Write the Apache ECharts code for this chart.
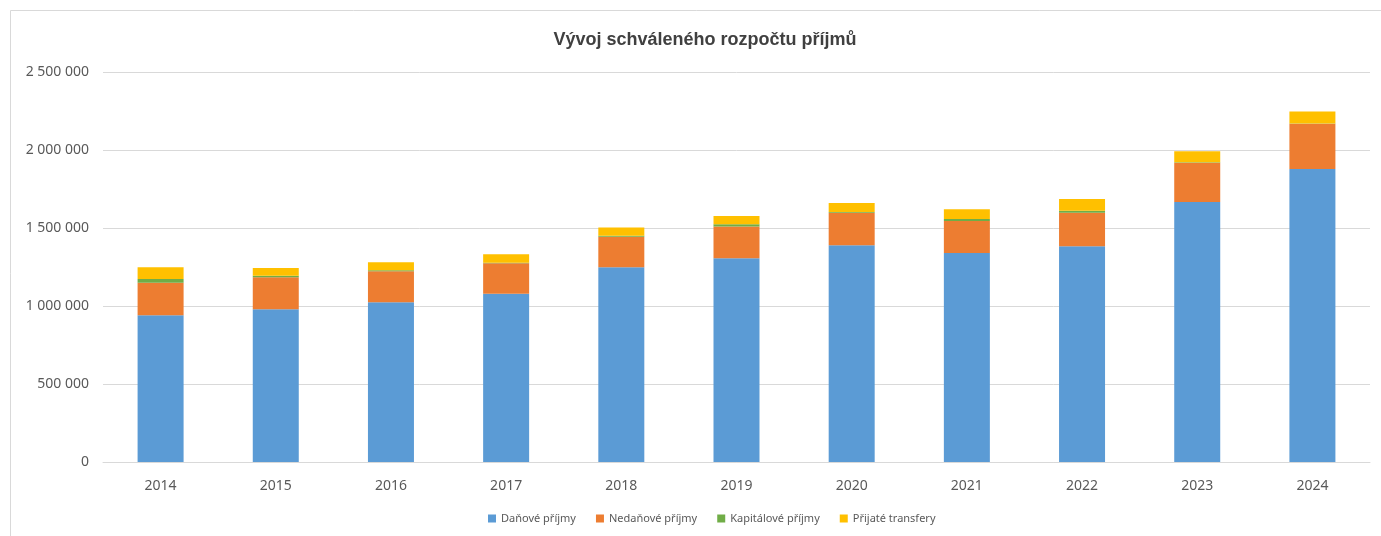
<!DOCTYPE html>
<html>
<head>
<meta charset="utf-8">
<script src="https://cdn.jsdelivr.net/npm/echarts@6/dist/echarts.min.js"></script>
<style>
html, body { margin: 0; padding: 0; background: #fff; }
#chart { width: 1381px; height: 536px; }
</style>
</head>
<body>
<div id="chart"></div>
<script>
// roky
var years = ['2014', '2015', '2016', '2017', '2018', '2019', '2020', '2021', '2022', '2023', '2024'];
// hodnoty
var danove = [940000, 979000, 1024000, 1079000, 1248000, 1306000, 1389000, 1340000, 1383000, 1667000, 1878000];
var nedanove = [209000, 205000, 199000, 195000, 196000, 203000, 209000, 205000, 215000, 252000, 290000];
var kapitalove = [24000, 10000, 6000, 4000, 6000, 15000, 4000, 13000, 13000, 2000, 2000];
var transfery = [75000, 49000, 51000, 54000, 54000, 53000, 58000, 62000, 75000, 71000, 77000];
var seriesNames = ['Daňové příjmy', 'Nedaňové příjmy', 'Kapitálové příjmy', 'Přijaté transfery'];
var colors = ['#5B9BD5', '#ED7D31', '#70AD47', '#FFC000'];

var chart = echarts.init(document.getElementById('chart'));

function fmt (v) {
  return String(v).replace(/\B(?=(\d{3})+(?!\d))/g, ' ');
}

function bar (name, data) {
  return {
    name: name,
    type: 'bar',
    stack: 'total',
    barWidth: 46,
    data: data
  };
}

var option = {
  backgroundColor: '#fff',
  color: colors,
  animation: false,
  title: {
    text: 'Vývoj schváleného rozpočtu příjmů',
    left: 700,
    textAlign: 'center',
    top: 26,
    textStyle: {
      fontFamily: 'Liberation Sans',
      fontSize: 18,
      fontWeight: 'bold',
      color: '#404040'
    }
  },
  graphic: [{
    type: 'rect',
    shape: { x: 10.5, y: 10.5, width: 1400, height: 600 },
    style: { fill: 'none', stroke: '#d9d9d9', lineWidth: 1 },
    silent: true
  }],
  legend: {
    data: seriesNames,
    bottom: 7,
    left: 483,
    itemWidth: 8,
    itemHeight: 8,
    itemGap: 20,
    icon: 'rect',
    textStyle: {
      fontFamily: 'Noto Sans',
      fontSize: 11,
      color: '#595959'
    }
  },
  grid: {
    left: 103,
    right: 11,
    top: 72,
    bottom: 74
  },
  xAxis: {
    type: 'category',
    data: years,
    axisTick: { show: false },
    axisLine: { lineStyle: { color: '#d9d9d9' } },
    axisLabel: {
      fontFamily: 'Noto Sans',
      fontSize: 14,
      color: '#595959',
      margin: 17
    }
  },
  yAxis: {
    type: 'value',
    min: 0,
    max: 2500000,
    interval: 500000,
    axisLine: { show: false },
    axisTick: { show: false },
    splitLine: { lineStyle: { color: '#d9d9d9' } },
    axisLabel: {
      fontFamily: 'Noto Sans',
      fontSize: 14,
      color: '#595959',
      margin: 14,
      formatter: fmt
    }
  },
  series: [
    bar(seriesNames[0], danove),
    bar(seriesNames[1], nedanove),
    bar(seriesNames[2], kapitalove),
    bar(seriesNames[3], transfery)
  ]
};

chart.setOption(option);
</script>
</body>
</html>
